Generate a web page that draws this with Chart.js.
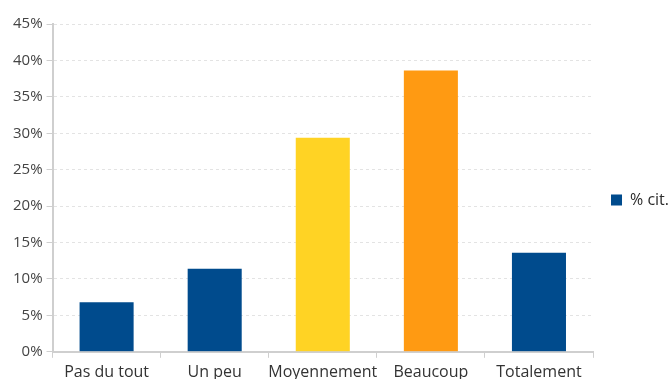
<!DOCTYPE html>
<html>
<head>
<meta charset="utf-8">
<script src="https://cdn.jsdelivr.net/npm/chart.js@4/dist/chart.umd.min.js"></script>
<style>
  html, body { margin: 0; padding: 0; background: #fff; overflow: hidden; }
  /* a bit larger than the window: the legend text and x labels get cut at the edges like the original */
  #wrap { width: 679px; height: 387px; position: relative; }
</style>
</head>
<body>
<div id="wrap"><canvas id="chart"></canvas></div>
<script>
// categories and values (percent of citations)
const categories = ['Pas du tout', 'Un peu', 'Moyennement', 'Beaucoup', 'Totalement'];
const citPct = [6.8, 11.4, 29.4, 38.6, 13.6];
const barColors = ['#004b8d', '#004b8d', '#ffd324', '#ff9a12', '#004b8d'];
const seriesName = '% cit.';

const ctx = document.getElementById('chart').getContext('2d');
new Chart(ctx, {
  type: 'bar',
  data: {
    labels: categories,
    datasets: [{
      label: seriesName,
      data: citPct,
      backgroundColor: barColors,
      borderWidth: 0,
      categoryPercentage: 1,
      barPercentage: 0.5
    }]
  },
  options: {
    responsive: true,
    maintainAspectRatio: false,
    animation: false,
    layout: { padding: { top: 24, left: 9, right: 0, bottom: 0 } },
    plugins: {
      tooltip: { enabled: false },
      legend: {
        position: 'right',
        fullSize: false,
        // empty title only nudges the single legend item down a little
        title: { display: true, text: '', color: '#333', font: { size: 12 }, padding: 5 },
        labels: {
          // legend swatch always shows the series blue
          generateLabels: () => [{ text: seriesName, fillStyle: '#004b8d', strokeStyle: '#004b8d', fontColor: '#2b2b2b', lineWidth: 0 }],
          boxWidth: 11,
          boxHeight: 11,
          padding: 18,
          color: '#2b2b2b',
          font: { family: 'Open Sans', size: 16 }
        }
      }
    },
    scales: {
      x: {
        grid: { display: true, drawOnChartArea: false, color: '#cfcfcf', tickLength: 6, offset: true },
        border: { color: '#cfcfcf', width: 2 },
        ticks: { color: '#333', padding: 5, autoSkip: false, font: { family: 'Open Sans', size: 16 }, maxRotation: 0 }
      },
      y: {
        min: 0,
        max: 45,
        ticks: {
          stepSize: 5,
          color: '#444',
          padding: 4,
          font: { family: 'Open Sans', size: 15 },
          callback: v => v + '%'
        },
        grid: { color: '#e3e3e3', tickLength: 6, tickColor: '#cfcfcf' },
        border: { color: '#cfcfcf', width: 2, dash: [3, 3] }
      }
    }
  }
});
</script>
</body>
</html>
